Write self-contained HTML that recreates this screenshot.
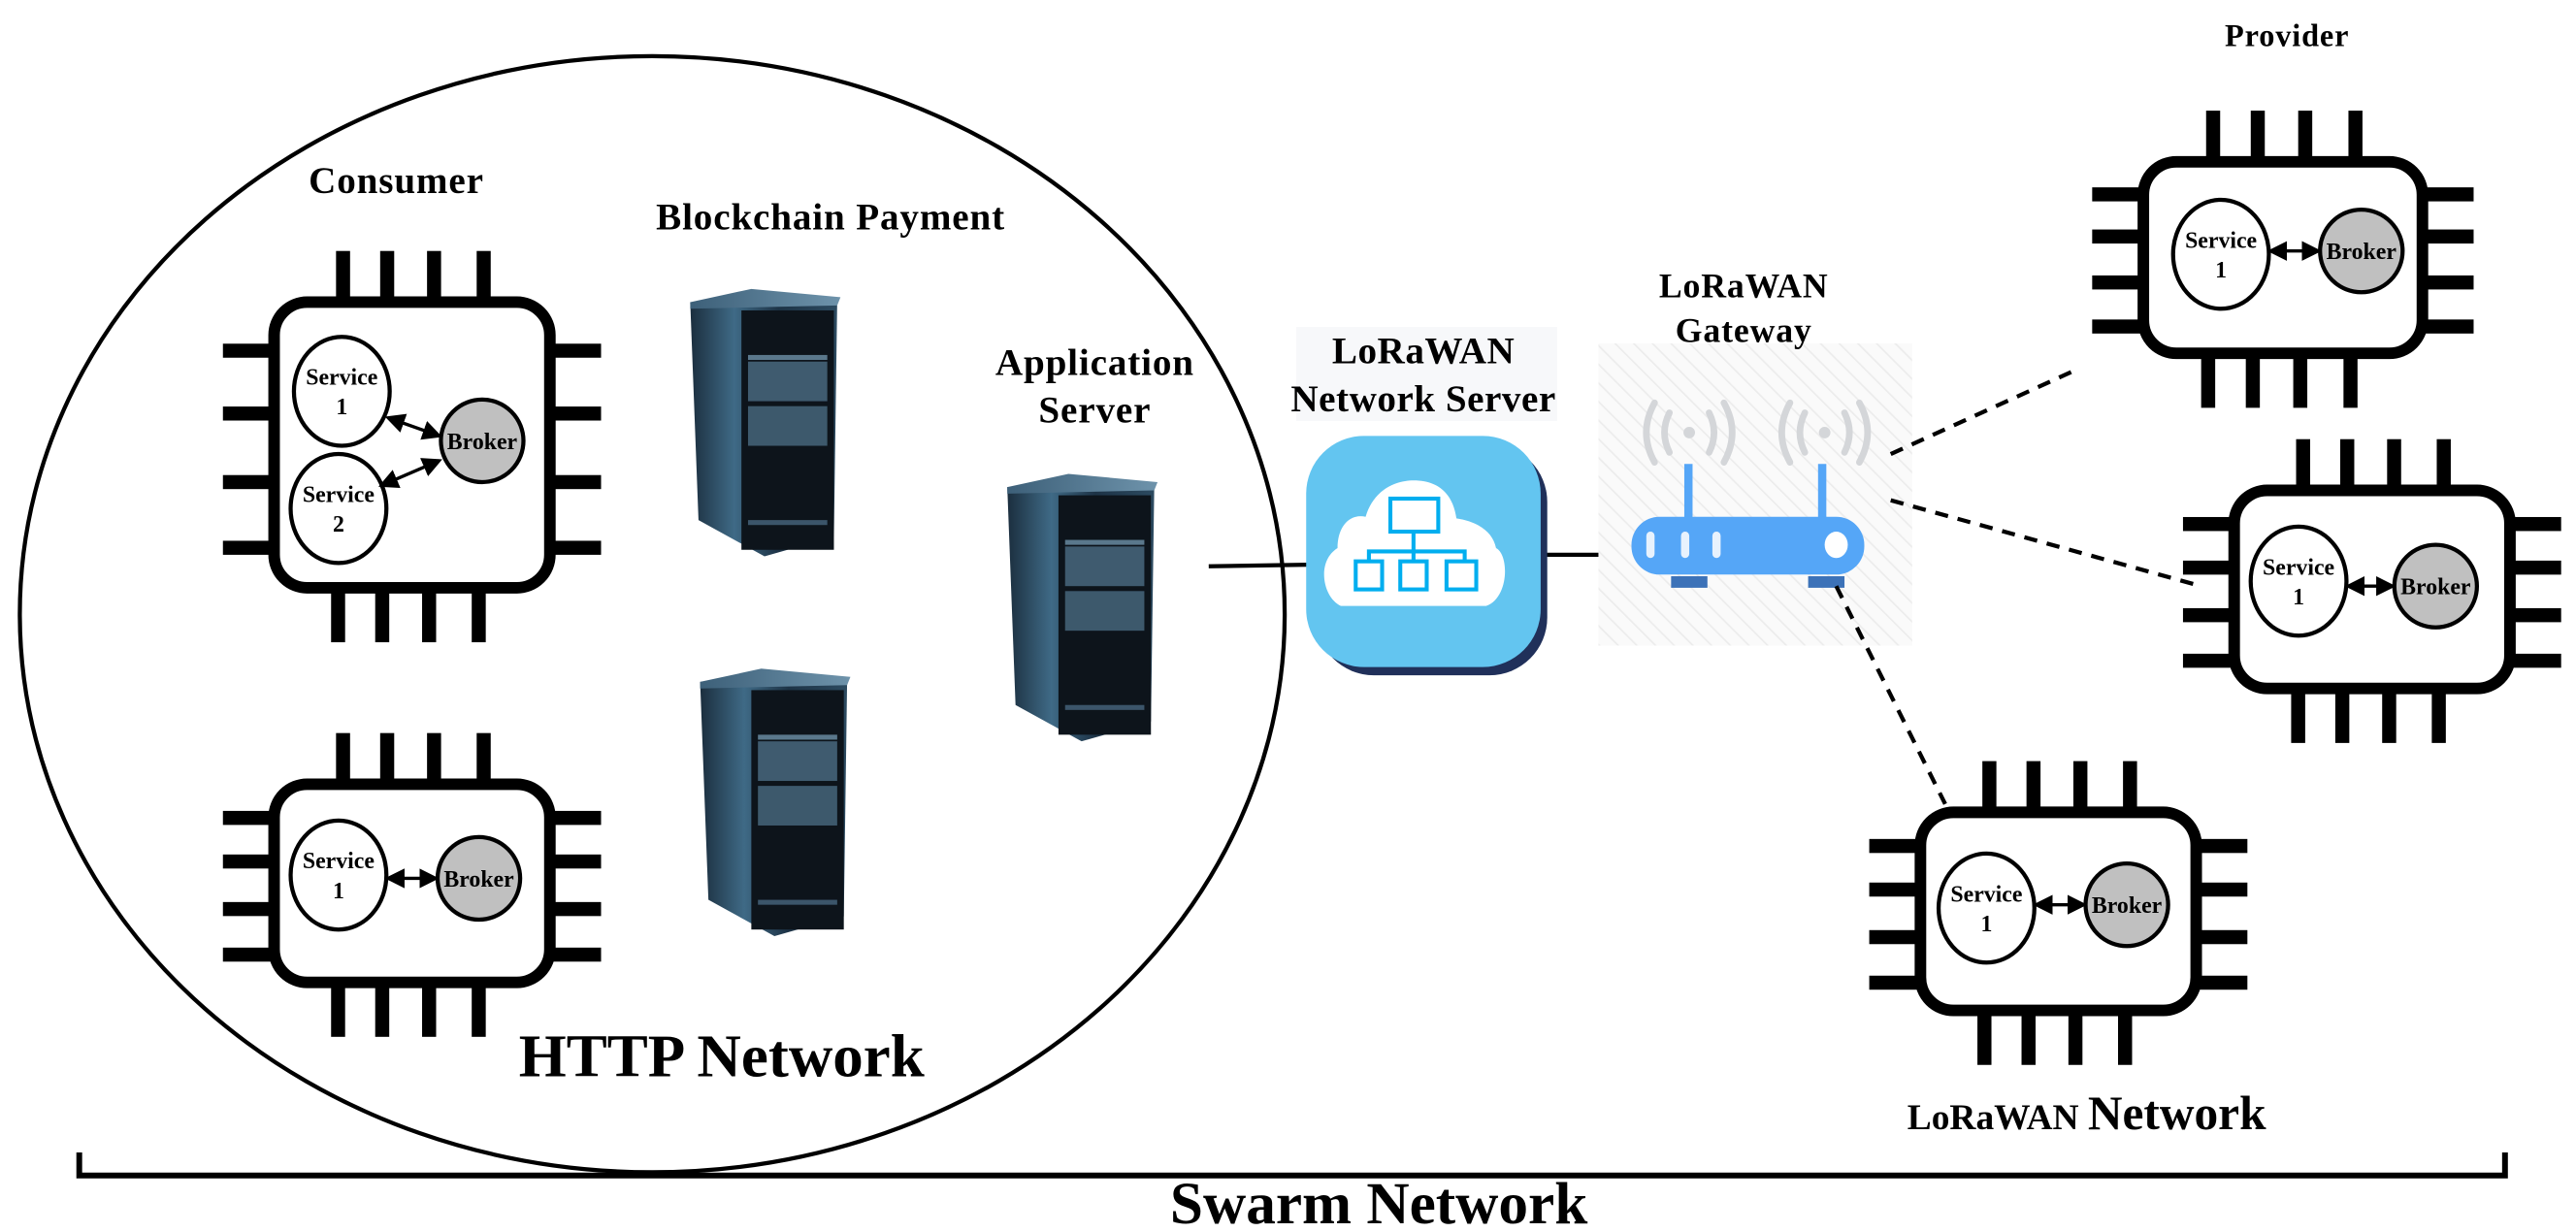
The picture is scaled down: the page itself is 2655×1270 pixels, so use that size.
<!DOCTYPE html>
<html><head><meta charset="utf-8"><style>
html,body{margin:0;padding:0;background:#fff;}
svg{display:block;}
text{font-family:"Liberation Serif",serif;font-weight:bold;fill:#000;}
</style></head><body>
<svg id="s" width="2655" height="1270" viewBox="0 0 1560 746.2" xmlns="http://www.w3.org/2000/svg">
<defs>
<linearGradient id="srv" x1="0" x2="1">
<stop offset="0" stop-color="#1b2e3e"/><stop offset="0.3" stop-color="#3f6a86"/><stop offset="0.6" stop-color="#1d3346"/><stop offset="1" stop-color="#2c4a60"/></linearGradient>
<linearGradient id="srvtop" x1="0" x2="1"><stop offset="0" stop-color="#3d6079"/><stop offset="1" stop-color="#6e93ab"/></linearGradient>
<pattern id="hatch" width="8" height="8" patternUnits="userSpaceOnUse" patternTransform="rotate(-45)">
<rect width="8" height="8" fill="#fafafa"/><line x1="0" y1="0" x2="0" y2="8" stroke="#ececec" stroke-width="2"/></pattern>
<marker id="ah" markerWidth="6" markerHeight="6" refX="5" refY="3" orient="auto-start-reverse" markerUnits="strokeWidth"><path d="M0,0 L6,3 L0,6 z" fill="#000"/></marker>
<g id="server">
<path d="M3,8 L92,8 L90,150 L48,162 L8,140 Z" fill="url(#srv)"/>
<path d="M3,8 L40,0 L94,5 L92,10 L3,12 Z" fill="url(#srvtop)"/>
<rect x="34" y="13" width="56" height="145" fill="#0d141b"/>
<rect x="38" y="40" width="48" height="3" fill="#5a788c"/>
<rect x="38" y="44" width="48" height="24" fill="#3f5b6f"/>
<rect x="38" y="71" width="48" height="24" fill="#3d596c"/>
<rect x="38" y="140" width="48" height="3" fill="#3b556a"/>
</g>
</defs>

<ellipse cx="395" cy="372" rx="383" ry="338" fill="none" stroke="#000" stroke-width="2.5"/>

<use href="#server" x="415" y="175"/>
<use href="#server" x="421" y="405"/>
<use href="#server" x="607" y="287"/>

<line x1="732" y1="343" x2="792" y2="342" stroke="#000" stroke-width="2.5"/>
<line x1="935" y1="336" x2="997" y2="336" stroke="#000" stroke-width="2.5"/>

<!-- network server -->
<rect x="785" y="198" width="158" height="57" fill="#f7f8fa"/>
<rect x="797" y="269" width="140" height="140" rx="35" fill="#20305a"/>
<rect x="791" y="264" width="142" height="140" rx="35" fill="#63c5f0"/>
<path d="M812,367 C801,362 797,340 810,332 C810,318 818,311 827,313 C832,296 846,291 856,291 C872,291 880,300 882,314 C895,316 904,322 906,332 C914,336 914,362 900,367 Z" fill="#fff"/>
<g fill="none" stroke="#00aeef" stroke-width="2.4">
<rect x="842" y="302" width="29" height="20"/>
<line x1="856" y1="322" x2="856" y2="334"/>
<polyline points="829,340 829,334 887,334 887,340"/>
<line x1="856" y1="334" x2="856" y2="340"/>
<rect x="821" y="340" width="16" height="17"/><rect x="848" y="340" width="16" height="17"/><rect x="876" y="340" width="18" height="17"/>
</g>

<!-- gateway -->
<rect x="968" y="208" width="190" height="183" fill="url(#hatch)"/>
<g fill="none" stroke="#d4d6d9" stroke-width="4" stroke-linecap="round">
<path d="M1011,250 Q1005,262 1011,274"/><path d="M1035,250 Q1041,262 1035,274"/>
<path d="M1002,244 Q992,262 1002,280"/><path d="M1044,244 Q1054,262 1044,280"/>
<path d="M1093,250 Q1087,262 1093,274"/><path d="M1117,250 Q1123,262 1117,274"/>
<path d="M1084,244 Q1074,262 1084,280"/><path d="M1126,244 Q1136,262 1126,280"/>
</g>
<circle cx="1023" cy="262" r="3.5" fill="#d4d6d9"/><circle cx="1105" cy="262" r="3.5" fill="#d4d6d9"/>
<rect x="1020" y="281" width="5" height="35" fill="#55a6f7"/><rect x="1101" y="281" width="5" height="35" fill="#55a6f7"/>
<rect x="988" y="313" width="141" height="35" rx="17" fill="#55a6f7"/>
<rect x="997" y="322" width="5" height="16" rx="2.5" fill="#e8f2fd"/><rect x="1018" y="322" width="5" height="16" rx="2.5" fill="#e8f2fd"/><rect x="1037" y="322" width="5" height="16" rx="2.5" fill="#e8f2fd"/>
<ellipse cx="1112" cy="330" rx="7" ry="8" fill="#fff"/>
<rect x="1012" y="349" width="22" height="7" fill="#3c72b8"/><rect x="1095" y="349" width="22" height="7" fill="#3c72b8"/>

<g stroke="#000" stroke-width="2.5" stroke-dasharray="8,6" fill="none">
<line x1="1145" y1="275" x2="1255" y2="225"/>
<line x1="1145" y1="303" x2="1333" y2="355"/>
<line x1="1112" y1="355" x2="1178" y2="487"/>
</g>

<g id="chips"></g>

<text x="240" y="117" font-size="23" text-anchor="middle" letter-spacing="0.5">Consumer</text>
<text x="503" y="139" font-size="23" text-anchor="middle" letter-spacing="0.5">Blockchain Payment</text>
<text x="663" y="227" font-size="23" text-anchor="middle" letter-spacing="0.5">Application</text>
<text x="663" y="256" font-size="23" text-anchor="middle" letter-spacing="0.5">Server</text>
<text x="862" y="220" font-size="23" text-anchor="middle" letter-spacing="0.3">LoRaWAN</text>
<text x="862" y="249" font-size="23" text-anchor="middle" letter-spacing="0.3">Network Server</text>
<text x="1056" y="180" font-size="21" text-anchor="middle" letter-spacing="0.5">LoRaWAN</text>
<text x="1056" y="207" font-size="21" text-anchor="middle" letter-spacing="0.5">Gateway</text>
<text x="1385" y="28" font-size="19" text-anchor="middle" letter-spacing="0.5">Provider</text>
<text x="437" y="652" font-size="37" text-anchor="middle">HTTP Network</text>
<text x="1155" y="684" font-size="22">LoRaWAN <tspan font-size="29">Network</tspan></text>
<text x="835" y="741" font-size="36" text-anchor="middle">Swarm Network</text>

<polyline points="48,698 48,712 1517,712 1517,698" fill="none" stroke="#000" stroke-width="3.5"/>
</svg>
<script>
function chip(x,y,w,h,two,sc,bc){
 var s='';var t=7,pl=31,pw=8.5;
 var xs=[0.25,0.41,0.58,0.76];
 for(var i=0;i<4;i++){var px=x+w*xs[i]-pw/2;
  s+='<rect x="'+px+'" y="'+(y-pl)+'" width="'+pw+'" height="'+(pl+2)+'"/>';
  s+='<rect x="'+(px-3)+'" y="'+(y+h-2)+'" width="'+pw+'" height="'+(pl+4)+'"/>';}
 var ys=[0.17,0.39,0.63,0.86];
 for(var i=0;i<4;i++){var py=y+h*ys[i]-pw/2;
  s+='<rect x="'+(x-pl)+'" y="'+py+'" width="'+(pl+2)+'" height="'+pw+'"/>';
  s+='<rect x="'+(x+w-2)+'" y="'+py+'" width="'+(pl+2)+'" height="'+pw+'"/>';}
 s='<g fill="#000">'+s+'</g>';
 s+='<rect x="'+x+'" y="'+y+'" width="'+w+'" height="'+h+'" rx="20" fill="#fff" stroke="#000" stroke-width="'+t+'"/>';
 function svc(cx,cy,n){return '<ellipse cx="'+cx+'" cy="'+cy+'" rx="29" ry="33" fill="#fff" stroke="#000" stroke-width="2.5"/><text x="'+cx+'" y="'+(cy-4)+'" font-size="14" text-anchor="middle">Service</text><text x="'+cx+'" y="'+(cy+14)+'" font-size="14" text-anchor="middle">'+n+'</text>';}
 s+='<circle cx="'+bc[0]+'" cy="'+bc[1]+'" r="25" fill="#c0c0c0" stroke="#000" stroke-width="2.5"/><text x="'+bc[0]+'" y="'+(bc[1]+5)+'" font-size="14" text-anchor="middle">Broker</text>';
 s+=svc(sc[0],sc[1],1);
 if(two){s+=svc(sc[0]-2,sc[1]+71,2);
  s+='<line x1="'+(sc[0]+28)+'" y1="'+(sc[1]+16)+'" x2="'+(bc[0]-26)+'" y2="'+(bc[1]-3)+'" stroke="#000" stroke-width="2" marker-start="url(#ah)" marker-end="url(#ah)"/>';
  s+='<line x1="'+(sc[0]+24)+'" y1="'+(sc[1]+57)+'" x2="'+(bc[0]-26)+'" y2="'+(bc[1]+12)+'" stroke="#000" stroke-width="2" marker-start="url(#ah)" marker-end="url(#ah)"/>';}
 else s+='<line x1="'+(sc[0]+30)+'" y1="'+bc[1]+'" x2="'+(bc[0]-26)+'" y2="'+bc[1]+'" stroke="#000" stroke-width="2" marker-start="url(#ah)" marker-end="url(#ah)"/>';
 return s;
}
var h='';
h+=chip(166,183,167,173,true,[207,237],[292,267]);
h+=chip(166,475,167,120,false,[205,530],[290,532]);
h+=chip(1298,98,169,116,false,[1345,154],[1430,152]);
h+=chip(1353,297,167,120,false,[1392,352],[1475,355]);
h+=chip(1163,492,167,120,false,[1203,550],[1288,548]);
document.getElementById('chips').innerHTML=h;
</script>
</body></html>
